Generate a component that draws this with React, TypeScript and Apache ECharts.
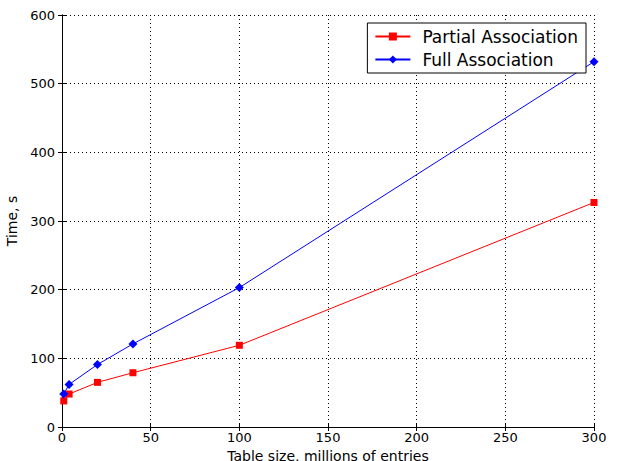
import React, { useEffect, useRef } from "react";
import * as echarts from "echarts";

const xValues = [1, 4, 20, 40, 100, 300];
const partial = [38, 48, 65, 79, 119, 327];
const full = [48, 62, 91, 121, 203, 532];
const seriesNames = ["Partial Association", "Full Association"];

const FONT = "DejaVu Sans";

export default function App() {
  const ref = useRef<HTMLDivElement>(null);
  useEffect(() => {
    const el = ref.current!;
    const chart = echarts.init(el, null, { renderer: "svg" });
    const axisBase = {
      type: "value" as const,
      axisLine: { show: true, lineStyle: { color: "#000", width: 1 } },
      axisTick: { show: true, inside: true, length: 4, lineStyle: { color: "#000" } },
    };
    chart.setOption({
      animation: false,
      backgroundColor: "#fff",
      textStyle: { fontFamily: FONT },
      grid: { left: 62, right: 28, top: 15, bottom: 34, containLabel: false, outerBoundsMode: "none" },
      legend: {
        data: seriesNames,
        orient: "vertical",
        right: 36,
        top: 23,
        padding: [5, 8, 5, 7],
        itemGap: 6,
        itemWidth: 35,
        itemHeight: 10,
        borderColor: "#000",
        borderWidth: 1,
        backgroundColor: "#fff",
        textStyle: { fontFamily: FONT, fontSize: 17, color: "#000", padding: [0, 0, 0, 7] },
      },
      xAxis: [
        {
          ...axisBase,
          min: 0,
          max: 300,
          interval: 50,
          name: "Table size, millions of entries",
          nameLocation: "middle",
          nameGap: 17,
          nameTextStyle: { fontFamily: FONT, fontSize: 14, color: "#000", lineHeight: 14 },
          axisLabel: { fontFamily: FONT, fontSize: 13, color: "#000", margin: 4 },
          splitLine: { show: true, lineStyle: { color: "#000", type: [1, 3], width: 1 } },
        },
        {
          ...axisBase,
          position: "top",
          min: 0,
          max: 300,
          interval: 50,
          axisLabel: { show: false },
          splitLine: { show: false },
        },
      ],
      yAxis: [
        {
          ...axisBase,
          min: 0,
          max: 600,
          interval: 100,
          name: "Time, s",
          nameLocation: "middle",
          nameGap: 37,
          nameRotate: 90,
          nameTextStyle: { fontFamily: FONT, fontSize: 14, color: "#000" },
          axisLabel: { fontFamily: FONT, fontSize: 13, color: "#000", margin: 7 },
          splitLine: { show: true, lineStyle: { color: "#000", type: [1, 3], width: 1 } },
        },
        {
          ...axisBase,
          position: "right",
          min: 0,
          max: 600,
          interval: 100,
          axisLabel: { show: false },
          splitLine: { show: false },
        },
      ],
      series: [
        {
          name: seriesNames[0],
          type: "line",
          data: xValues.map((x, i) => [x, partial[i]]),
          symbol: "rect",
          symbolSize: 7,
          color: "#ff0000",
          lineStyle: { width: 1, color: "#ff0000" },
          itemStyle: { color: "#ff0000" },
          z: 3,
        },
        {
          name: seriesNames[1],
          type: "line",
          data: xValues.map((x, i) => [x, full[i]]),
          symbol: "diamond",
          symbolSize: 9,
          color: "#0000ff",
          lineStyle: { width: 1, color: "#0000ff" },
          itemStyle: { color: "#0000ff" },
          z: 3,
        },
      ],
    });
    return () => chart.dispose();
  }, []);
  return <div ref={ref} style={{ width: 622, height: 461, position: "absolute", left: 0, top: 0 }} />;
}
